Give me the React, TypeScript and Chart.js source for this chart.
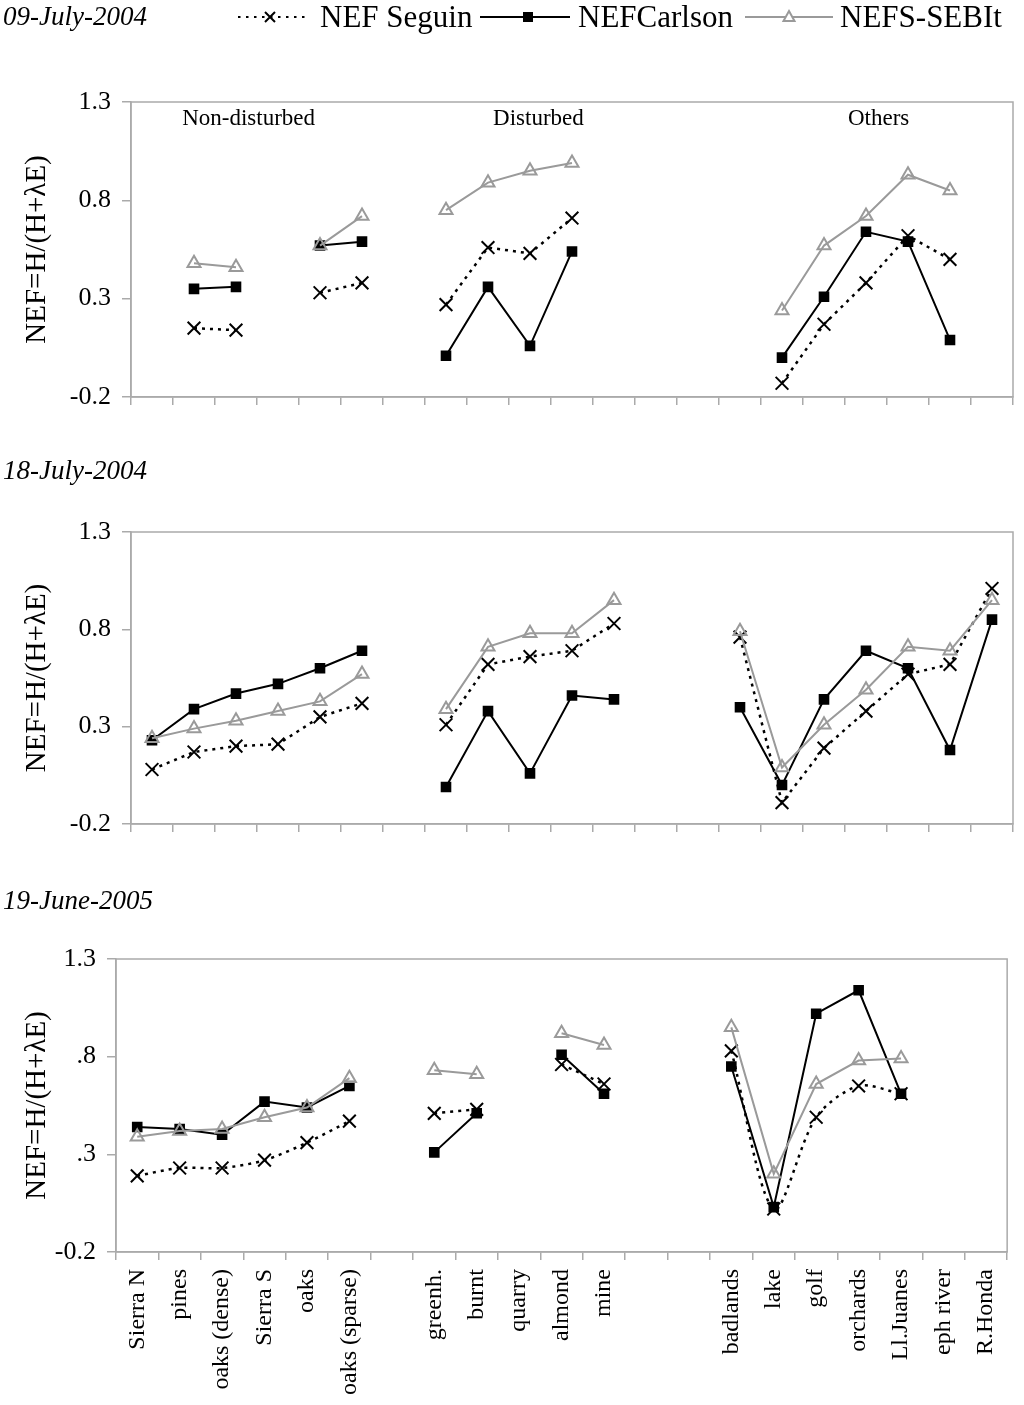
import { useEffect, useRef } from "react";
import { Chart, registerables } from "chart.js";

Chart.register(...registerables);

const FONT = "'Liberation Serif', 'Times New Roman', serif";
const GREY = "#9a9a9a";
const AXIS = "#aaaaaa";

// --- data ---
const categories = [
  "Sierra N", "pines", "oaks (dense)", "Sierra S", "oaks", "oaks (sparse)", "",
  "greenh.", "burnt", "quarry", "almond", "mine", "", "",
  "badlands", "lake", "golf", "orchards", "Ll.Juanes", "eph river", "R.Honda",
];
const seriesNames = ["NEF Seguin", "NEFCarlson", "NEFS-SEBIt"];
const groupNames = ["Non-disturbed", "Disturbed", "Others"];
const dates = ["09-July-2004", "18-July-2004", "19-June-2005"];
const yAxisTitle = "NEF=H/(H+λE)";
const yTickValues = [-0.2, 0.3, 0.8, 1.3];
const yTickLabels = ["-0.2", "0.3", "0.8", "1.3"];
const yTickLabelsShort = ["-0.2", ".3", ".8", "1.3"];

const seguinJul09 = [null, 0.15, 0.14, null, 0.33, 0.38, null, 0.27, 0.56, 0.53, 0.71, null, null, null, null, -0.13, 0.17, 0.38, 0.62, 0.50, null];
const carlsonJul09 = [null, 0.35, 0.36, null, 0.57, 0.59, null, 0.01, 0.36, 0.06, 0.54, null, null, null, null, 0.0, 0.31, 0.64, 0.59, 0.09, null];
const sebitJul09 = [null, 0.48, 0.46, null, 0.57, 0.72, null, 0.75, 0.89, 0.95, 0.99, null, null, null, null, 0.24, 0.57, 0.72, 0.93, 0.85, null];

const seguinJul18 = [0.08, 0.17, 0.2, 0.21, 0.35, 0.42, null, 0.31, 0.62, 0.66, 0.69, 0.83, null, null, 0.76, -0.09, 0.19, 0.38, 0.57, 0.62, 1.01];
const carlsonJul18 = [0.23, 0.39, 0.47, 0.52, 0.6, 0.69, null, -0.01, 0.38, 0.06, 0.46, 0.44, null, null, 0.4, 0.0, 0.44, 0.69, 0.6, 0.18, 0.85];
const sebitJul18 = [0.24, 0.29, 0.33, 0.38, 0.43, 0.57, null, 0.39, 0.71, 0.78, 0.78, 0.95, null, null, 0.79, 0.09, 0.31, 0.49, 0.71, 0.69, 0.95];

const seguinJun19 = [0.19, 0.23, 0.23, 0.27, 0.36, 0.47, null, 0.51, 0.53, null, 0.76, 0.66, null, null, 0.83, 0.02, 0.49, 0.65, 0.61, null, null];
const carlsonJun19 = [0.44, 0.43, 0.4, 0.57, 0.54, 0.65, null, 0.31, 0.51, null, 0.81, 0.61, null, null, 0.75, 0.03, 1.02, 1.14, 0.61, null, null];
const sebitJun19 = [0.39, 0.42, 0.43, 0.49, 0.54, 0.69, null, 0.73, 0.71, null, 0.92, 0.86, null, null, 0.95, 0.2, 0.66, 0.78, 0.79, null, null];

// layout of the three panels (pixels inside the page)
const PANELS = [
  { top: 0, height: 440, plotTop: 102, xAxisH: 43, yAxisW: 131, padRight: 8, titleY: 18, tension: 0,
    seguin: seguinJul09, carlson: carlsonJul09, sebit: sebitJul09, ticks: yTickLabels, labels: false, legend: true },
  { top: 440, height: 430, plotTop: 92, xAxisH: 46, yAxisW: 131, padRight: 8, titleY: 32, tension: 0,
    seguin: seguinJul18, carlson: carlsonJul18, sebit: sebitJul18, ticks: yTickLabels, labels: false, legend: false },
  { top: 870, height: 535, plotTop: 89, xAxisH: 153, yAxisW: 116, padRight: 11, titleY: 32, tension: 0.3,
    seguin: seguinJun19, carlson: carlsonJun19, sebit: sebitJun19, ticks: yTickLabelsShort, labels: true, legend: false },
];

const GROUP_POS = [2.3, 9.2, 17.3];

function drawMarker(ctx: CanvasRenderingContext2D, kind: string, x: number, y: number, color: string) {
  ctx.save();
  ctx.setLineDash([]);
  ctx.strokeStyle = color;
  ctx.fillStyle = color;
  ctx.lineWidth = 2;
  if (kind === "x") {
    ctx.beginPath();
    ctx.moveTo(x - 5, y - 5); ctx.lineTo(x + 5, y + 5);
    ctx.moveTo(x + 5, y - 5); ctx.lineTo(x - 5, y + 5);
    ctx.stroke();
  } else if (kind === "sq") {
    ctx.fillRect(x - 5, y - 5, 10, 10);
  } else {
    ctx.fillStyle = "#fff";
    ctx.beginPath();
    ctx.moveTo(x, y - 6); ctx.lineTo(x + 5.5, y + 4); ctx.lineTo(x - 5.5, y + 4);
    ctx.closePath();
    ctx.fill();
    ctx.stroke();
  }
  ctx.restore();
}

const decorPlugin = {
  id: "decor",
  beforeDraw(chart: any) {
    const { ctx, width, height } = chart;
    ctx.save();
    ctx.fillStyle = "#fff";
    ctx.fillRect(0, 0, width, height);
    ctx.restore();
  },
  beforeDatasetsDraw(chart: any) {
    const { ctx, chartArea } = chart;
    ctx.save();
    ctx.strokeStyle = AXIS;
    ctx.lineWidth = 1.5;
    ctx.strokeRect(chartArea.left, chartArea.top, chartArea.right - chartArea.left, chartArea.bottom - chartArea.top);
    ctx.restore();
  },
  afterDraw(chart: any, _args: any, opts: any) {
    const { ctx, chartArea } = chart;
    ctx.save();
    ctx.fillStyle = "#000";
    ctx.textBaseline = "middle";
    ctx.textAlign = "left";
    ctx.font = `italic 27px ${FONT}`;
    ctx.fillText(opts.title, 3, opts.titleY);

    if (opts.legend) {
      const items = [
        { x0: 238, x1: 305, mx: 270, tx: 320, dash: [2.5, 5.5], color: "#000", marker: "x" },
        { x0: 480, x1: 570, mx: 528, tx: 578, dash: [], color: "#000", marker: "sq" },
        { x0: 745, x1: 833, mx: 789, tx: 840, dash: [], color: GREY, marker: "tri" },
      ];
      items.forEach((it, i) => {
        ctx.save();
        ctx.strokeStyle = it.color;
        ctx.lineWidth = 2;
        ctx.setLineDash(it.dash);
        ctx.beginPath();
        ctx.moveTo(it.x0, 17);
        ctx.lineTo(it.x1, 17);
        ctx.stroke();
        ctx.restore();
        drawMarker(ctx, it.marker, it.mx, 17, it.color);
        ctx.font = `31px ${FONT}`;
        ctx.fillStyle = "#000";
        ctx.fillText(seriesNames[i], it.tx, 19);
      });

      const xs = chart.scales.x;
      ctx.font = `23px ${FONT}`;
      ctx.textAlign = "center";
      groupNames.forEach((g, i) => {
        ctx.fillText(g, xs.getPixelForValue(GROUP_POS[i]), chartArea.top + 17);
      });
    }
    ctx.restore();
  },
};

function makeConfig(p: any, title: string): any {
  return {
    type: "line",
    data: {
      labels: categories,
      datasets: [
        {
          label: seriesNames[2],
          data: p.sebit,
          borderColor: GREY,
          borderWidth: 2,
          pointStyle: "triangle",
          pointRadius: 7.5,
          pointBorderColor: GREY,
          pointBackgroundColor: "rgba(0,0,0,0)",
          pointBorderWidth: 2,
          order: 0,
        },
        {
          label: seriesNames[1],
          data: p.carlson,
          borderColor: "#000",
          borderWidth: 2,
          pointStyle: "rect",
          pointRadius: 7.5,
          pointBorderColor: "#000",
          pointBackgroundColor: "#000",
          pointBorderWidth: 0,
          order: 1,
        },
        {
          label: seriesNames[0],
          data: p.seguin,
          borderColor: "#000",
          borderWidth: 2.5,
          borderDash: [3, 5],
          tension: p.tension,
          pointStyle: "crossRot",
          pointRadius: 9,
          pointBorderColor: "#000",
          pointBorderWidth: 2,
          order: 2,
        },
      ],
    },
    options: {
      responsive: false,
      maintainAspectRatio: false,
      animation: false,
      events: [],
      layout: { padding: { top: p.plotTop, right: p.padRight, left: 0, bottom: 0 } },
      plugins: {
        legend: { display: false },
        title: { display: false },
        tooltip: { enabled: false },
        decor: { title, titleY: p.titleY, legend: p.legend },
      },
      scales: {
        x: {
          type: "category",
          offset: true,
          grid: { offset: true, drawOnChartArea: false, drawTicks: true, tickLength: 8, color: AXIS, lineWidth: 1.5 },
          border: { color: AXIS, width: 1.5 },
          ticks: {
            display: p.labels,
            autoSkip: false,
            maxRotation: 90,
            minRotation: 90,
            padding: 9,
            color: "#000",
            font: { family: FONT, size: 24 },
          },
          afterFit: (s: any) => {
            s.height = p.xAxisH;
          },
        },
        y: {
          min: -0.2,
          max: 1.3,
          afterBuildTicks: (s: any) => {
            s.ticks = yTickValues.map((v) => ({ value: v }));
          },
          grid: { drawOnChartArea: false, drawTicks: true, tickLength: 9, color: AXIS, lineWidth: 1.5 },
          border: { color: AXIS, width: 1.5 },
          ticks: {
            padding: 11,
            color: "#000",
            font: { family: FONT, size: 26 },
            callback: (_v: any, i: number) => p.ticks[i],
          },
          title: {
            display: true,
            text: yAxisTitle,
            color: "#000",
            font: { family: FONT, size: 29 },
            padding: { top: 20, bottom: 0 },
          },
          afterFit: (s: any) => {
            s.width = p.yAxisW;
          },
        },
      },
    },
    plugins: [decorPlugin],
  };
}

export default function App() {
  const ref0 = useRef<HTMLCanvasElement>(null);
  const ref1 = useRef<HTMLCanvasElement>(null);
  const ref2 = useRef<HTMLCanvasElement>(null);
  const refs = [ref0, ref1, ref2];

  useEffect(() => {
    const charts = PANELS.map((p, i) => new Chart(refs[i].current as HTMLCanvasElement, makeConfig(p, dates[i])));
    return () => charts.forEach((c) => c.destroy());
  }, []);

  return (
    <div style={{ position: "absolute", left: 0, top: 0, width: 1024, height: 1405, background: "#fff" }}>
      {PANELS.map((p, i) => (
        <canvas
          key={i}
          ref={refs[i]}
          width={1024}
          height={p.height}
          style={{ position: "absolute", left: 0, top: p.top, width: 1024, height: p.height, display: "block" }}
        />
      ))}
    </div>
  );
}
